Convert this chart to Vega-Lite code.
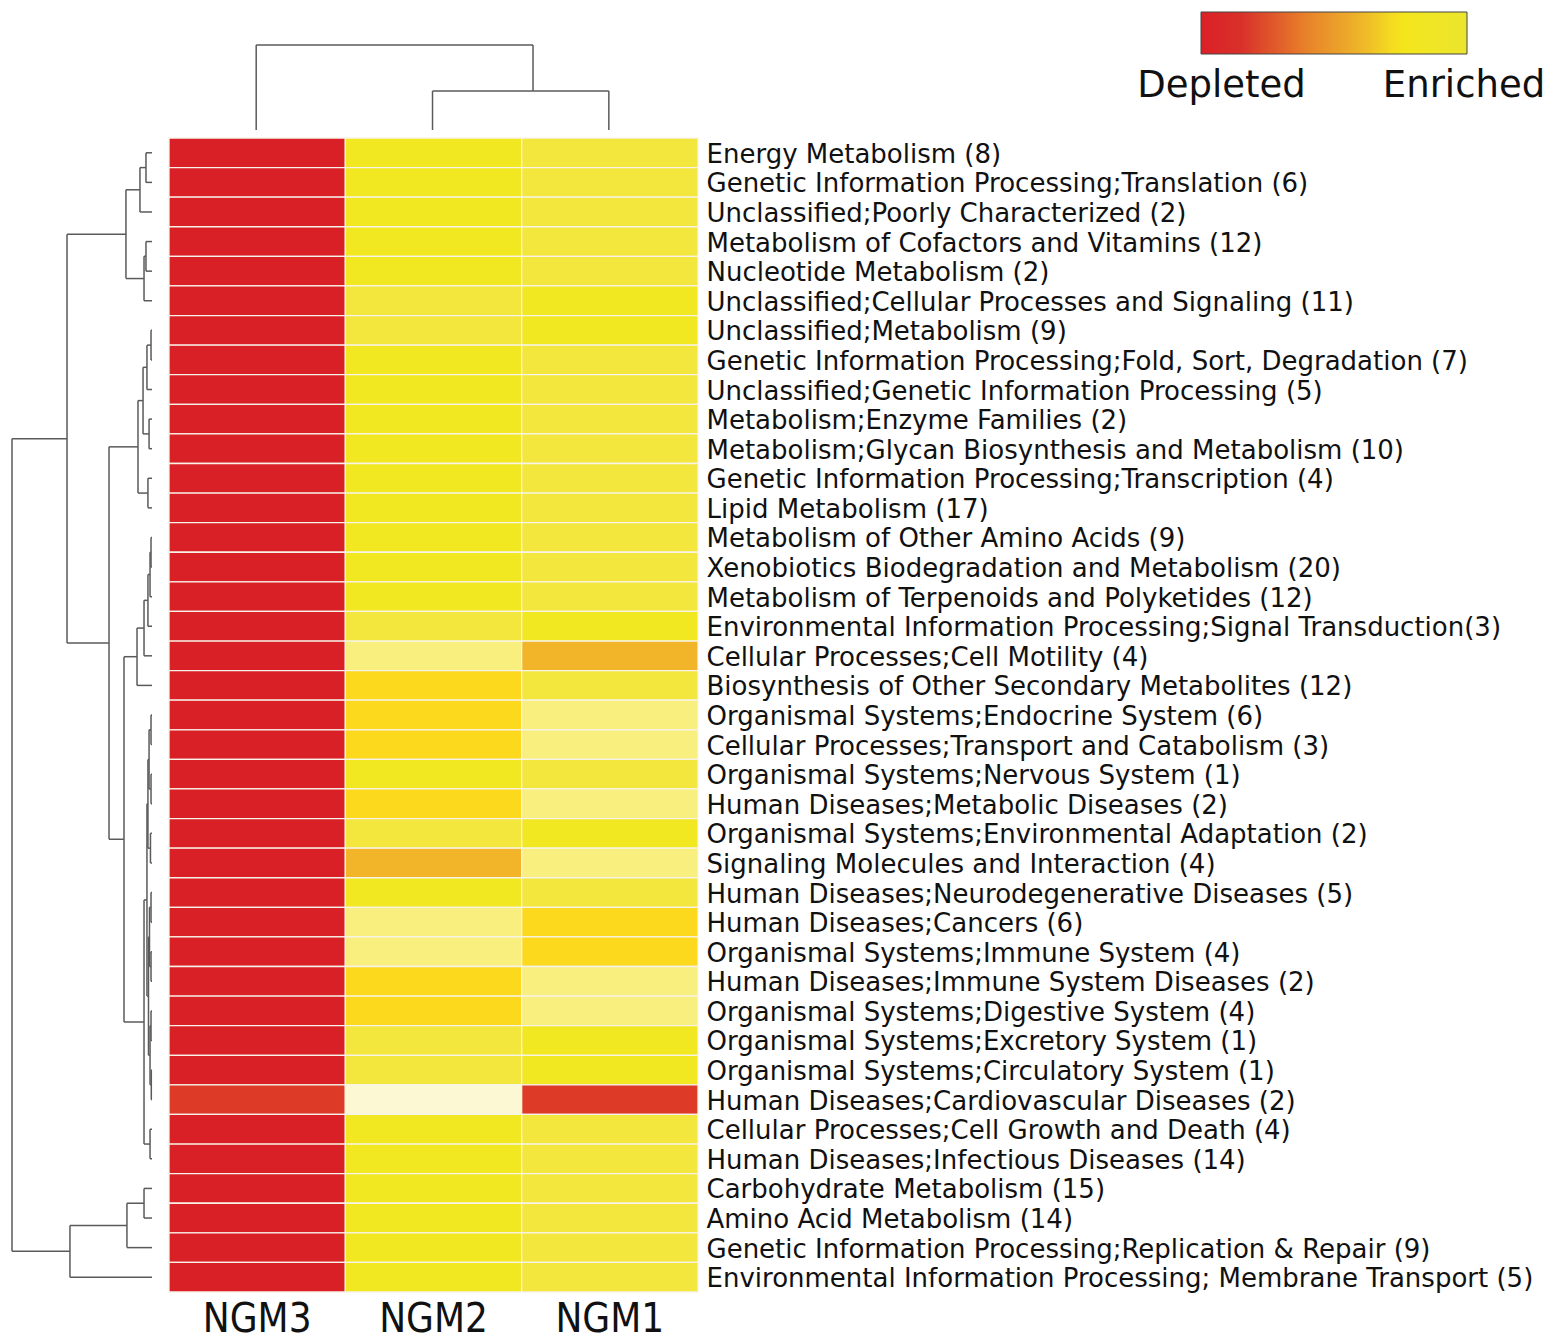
{
  "$schema": "https://vega.github.io/schema/vega-lite/v6.json",
  "padding": 0,
  "spacing": 0,
  "background": "white",
  "config": {"view": {"stroke": null}, "concat": {"spacing": 0}},
  "datasets": {
    "cells": [
      {"pathway": "Energy Metabolism (8)", "sample": "NGM3", "z": -1.15},
      {"pathway": "Energy Metabolism (8)", "sample": "NGM2", "z": 0.52},
      {"pathway": "Energy Metabolism (8)", "sample": "NGM1", "z": 0.64},
      {"pathway": "Genetic Information Processing;Translation (6)", "sample": "NGM3", "z": -1.15},
      {"pathway": "Genetic Information Processing;Translation (6)", "sample": "NGM2", "z": 0.52},
      {"pathway": "Genetic Information Processing;Translation (6)", "sample": "NGM1", "z": 0.64},
      {"pathway": "Unclassified;Poorly Characterized (2)", "sample": "NGM3", "z": -1.15},
      {"pathway": "Unclassified;Poorly Characterized (2)", "sample": "NGM2", "z": 0.52},
      {"pathway": "Unclassified;Poorly Characterized (2)", "sample": "NGM1", "z": 0.64},
      {"pathway": "Metabolism of Cofactors and Vitamins (12)", "sample": "NGM3", "z": -1.15},
      {"pathway": "Metabolism of Cofactors and Vitamins (12)", "sample": "NGM2", "z": 0.52},
      {"pathway": "Metabolism of Cofactors and Vitamins (12)", "sample": "NGM1", "z": 0.64},
      {"pathway": "Nucleotide Metabolism (2)", "sample": "NGM3", "z": -1.15},
      {"pathway": "Nucleotide Metabolism (2)", "sample": "NGM2", "z": 0.52},
      {"pathway": "Nucleotide Metabolism (2)", "sample": "NGM1", "z": 0.64},
      {"pathway": "Unclassified;Cellular Processes and Signaling (11)", "sample": "NGM3", "z": -1.15},
      {"pathway": "Unclassified;Cellular Processes and Signaling (11)", "sample": "NGM2", "z": 0.64},
      {"pathway": "Unclassified;Cellular Processes and Signaling (11)", "sample": "NGM1", "z": 0.52},
      {"pathway": "Unclassified;Metabolism (9)", "sample": "NGM3", "z": -1.15},
      {"pathway": "Unclassified;Metabolism (9)", "sample": "NGM2", "z": 0.64},
      {"pathway": "Unclassified;Metabolism (9)", "sample": "NGM1", "z": 0.52},
      {"pathway": "Genetic Information Processing;Fold, Sort, Degradation (7)", "sample": "NGM3", "z": -1.15},
      {"pathway": "Genetic Information Processing;Fold, Sort, Degradation (7)", "sample": "NGM2", "z": 0.52},
      {"pathway": "Genetic Information Processing;Fold, Sort, Degradation (7)", "sample": "NGM1", "z": 0.64},
      {"pathway": "Unclassified;Genetic Information Processing (5)", "sample": "NGM3", "z": -1.15},
      {"pathway": "Unclassified;Genetic Information Processing (5)", "sample": "NGM2", "z": 0.52},
      {"pathway": "Unclassified;Genetic Information Processing (5)", "sample": "NGM1", "z": 0.64},
      {"pathway": "Metabolism;Enzyme Families (2)", "sample": "NGM3", "z": -1.15},
      {"pathway": "Metabolism;Enzyme Families (2)", "sample": "NGM2", "z": 0.52},
      {"pathway": "Metabolism;Enzyme Families (2)", "sample": "NGM1", "z": 0.64},
      {"pathway": "Metabolism;Glycan Biosynthesis and Metabolism (10)", "sample": "NGM3", "z": -1.15},
      {"pathway": "Metabolism;Glycan Biosynthesis and Metabolism (10)", "sample": "NGM2", "z": 0.52},
      {"pathway": "Metabolism;Glycan Biosynthesis and Metabolism (10)", "sample": "NGM1", "z": 0.64},
      {"pathway": "Genetic Information Processing;Transcription (4)", "sample": "NGM3", "z": -1.15},
      {"pathway": "Genetic Information Processing;Transcription (4)", "sample": "NGM2", "z": 0.52},
      {"pathway": "Genetic Information Processing;Transcription (4)", "sample": "NGM1", "z": 0.64},
      {"pathway": "Lipid Metabolism (17)", "sample": "NGM3", "z": -1.15},
      {"pathway": "Lipid Metabolism (17)", "sample": "NGM2", "z": 0.52},
      {"pathway": "Lipid Metabolism (17)", "sample": "NGM1", "z": 0.64},
      {"pathway": "Metabolism of Other Amino Acids (9)", "sample": "NGM3", "z": -1.15},
      {"pathway": "Metabolism of Other Amino Acids (9)", "sample": "NGM2", "z": 0.52},
      {"pathway": "Metabolism of Other Amino Acids (9)", "sample": "NGM1", "z": 0.64},
      {"pathway": "Xenobiotics Biodegradation and Metabolism (20)", "sample": "NGM3", "z": -1.15},
      {"pathway": "Xenobiotics Biodegradation and Metabolism (20)", "sample": "NGM2", "z": 0.52},
      {"pathway": "Xenobiotics Biodegradation and Metabolism (20)", "sample": "NGM1", "z": 0.64},
      {"pathway": "Metabolism of Terpenoids and Polyketides (12)", "sample": "NGM3", "z": -1.15},
      {"pathway": "Metabolism of Terpenoids and Polyketides (12)", "sample": "NGM2", "z": 0.52},
      {"pathway": "Metabolism of Terpenoids and Polyketides (12)", "sample": "NGM1", "z": 0.64},
      {"pathway": "Environmental Information Processing;Signal Transduction(3)", "sample": "NGM3", "z": -1.15},
      {"pathway": "Environmental Information Processing;Signal Transduction(3)", "sample": "NGM2", "z": 0.64},
      {"pathway": "Environmental Information Processing;Signal Transduction(3)", "sample": "NGM1", "z": 0.52},
      {"pathway": "Cellular Processes;Cell Motility (4)", "sample": "NGM3", "z": -1.15},
      {"pathway": "Cellular Processes;Cell Motility (4)", "sample": "NGM2", "z": 0.82},
      {"pathway": "Cellular Processes;Cell Motility (4)", "sample": "NGM1", "z": 0.25},
      {"pathway": "Biosynthesis of Other Secondary Metabolites (12)", "sample": "NGM3", "z": -1.15},
      {"pathway": "Biosynthesis of Other Secondary Metabolites (12)", "sample": "NGM2", "z": 0.38},
      {"pathway": "Biosynthesis of Other Secondary Metabolites (12)", "sample": "NGM1", "z": 0.64},
      {"pathway": "Organismal Systems;Endocrine System (6)", "sample": "NGM3", "z": -1.15},
      {"pathway": "Organismal Systems;Endocrine System (6)", "sample": "NGM2", "z": 0.38},
      {"pathway": "Organismal Systems;Endocrine System (6)", "sample": "NGM1", "z": 0.82},
      {"pathway": "Cellular Processes;Transport and Catabolism (3)", "sample": "NGM3", "z": -1.15},
      {"pathway": "Cellular Processes;Transport and Catabolism (3)", "sample": "NGM2", "z": 0.38},
      {"pathway": "Cellular Processes;Transport and Catabolism (3)", "sample": "NGM1", "z": 0.82},
      {"pathway": "Organismal Systems;Nervous System (1)", "sample": "NGM3", "z": -1.15},
      {"pathway": "Organismal Systems;Nervous System (1)", "sample": "NGM2", "z": 0.52},
      {"pathway": "Organismal Systems;Nervous System (1)", "sample": "NGM1", "z": 0.64},
      {"pathway": "Human Diseases;Metabolic Diseases (2)", "sample": "NGM3", "z": -1.15},
      {"pathway": "Human Diseases;Metabolic Diseases (2)", "sample": "NGM2", "z": 0.38},
      {"pathway": "Human Diseases;Metabolic Diseases (2)", "sample": "NGM1", "z": 0.82},
      {"pathway": "Organismal Systems;Environmental Adaptation (2)", "sample": "NGM3", "z": -1.15},
      {"pathway": "Organismal Systems;Environmental Adaptation (2)", "sample": "NGM2", "z": 0.64},
      {"pathway": "Organismal Systems;Environmental Adaptation (2)", "sample": "NGM1", "z": 0.52},
      {"pathway": "Signaling Molecules and Interaction (4)", "sample": "NGM3", "z": -1.15},
      {"pathway": "Signaling Molecules and Interaction (4)", "sample": "NGM2", "z": 0.25},
      {"pathway": "Signaling Molecules and Interaction (4)", "sample": "NGM1", "z": 0.82},
      {"pathway": "Human Diseases;Neurodegenerative Diseases (5)", "sample": "NGM3", "z": -1.15},
      {"pathway": "Human Diseases;Neurodegenerative Diseases (5)", "sample": "NGM2", "z": 0.52},
      {"pathway": "Human Diseases;Neurodegenerative Diseases (5)", "sample": "NGM1", "z": 0.64},
      {"pathway": "Human Diseases;Cancers (6)", "sample": "NGM3", "z": -1.15},
      {"pathway": "Human Diseases;Cancers (6)", "sample": "NGM2", "z": 0.82},
      {"pathway": "Human Diseases;Cancers (6)", "sample": "NGM1", "z": 0.38},
      {"pathway": "Organismal Systems;Immune System (4)", "sample": "NGM3", "z": -1.15},
      {"pathway": "Organismal Systems;Immune System (4)", "sample": "NGM2", "z": 0.82},
      {"pathway": "Organismal Systems;Immune System (4)", "sample": "NGM1", "z": 0.38},
      {"pathway": "Human Diseases;Immune System Diseases (2)", "sample": "NGM3", "z": -1.15},
      {"pathway": "Human Diseases;Immune System Diseases (2)", "sample": "NGM2", "z": 0.38},
      {"pathway": "Human Diseases;Immune System Diseases (2)", "sample": "NGM1", "z": 0.82},
      {"pathway": "Organismal Systems;Digestive System (4)", "sample": "NGM3", "z": -1.15},
      {"pathway": "Organismal Systems;Digestive System (4)", "sample": "NGM2", "z": 0.38},
      {"pathway": "Organismal Systems;Digestive System (4)", "sample": "NGM1", "z": 0.82},
      {"pathway": "Organismal Systems;Excretory System (1)", "sample": "NGM3", "z": -1.15},
      {"pathway": "Organismal Systems;Excretory System (1)", "sample": "NGM2", "z": 0.64},
      {"pathway": "Organismal Systems;Excretory System (1)", "sample": "NGM1", "z": 0.52},
      {"pathway": "Organismal Systems;Circulatory System (1)", "sample": "NGM3", "z": -1.15},
      {"pathway": "Organismal Systems;Circulatory System (1)", "sample": "NGM2", "z": 0.64},
      {"pathway": "Organismal Systems;Circulatory System (1)", "sample": "NGM1", "z": 0.52},
      {"pathway": "Human Diseases;Cardiovascular Diseases (2)", "sample": "NGM3", "z": -0.57},
      {"pathway": "Human Diseases;Cardiovascular Diseases (2)", "sample": "NGM2", "z": 1.15},
      {"pathway": "Human Diseases;Cardiovascular Diseases (2)", "sample": "NGM1", "z": -0.58},
      {"pathway": "Cellular Processes;Cell Growth and Death (4)", "sample": "NGM3", "z": -1.15},
      {"pathway": "Cellular Processes;Cell Growth and Death (4)", "sample": "NGM2", "z": 0.52},
      {"pathway": "Cellular Processes;Cell Growth and Death (4)", "sample": "NGM1", "z": 0.64},
      {"pathway": "Human Diseases;Infectious Diseases (14)", "sample": "NGM3", "z": -1.15},
      {"pathway": "Human Diseases;Infectious Diseases (14)", "sample": "NGM2", "z": 0.52},
      {"pathway": "Human Diseases;Infectious Diseases (14)", "sample": "NGM1", "z": 0.64},
      {"pathway": "Carbohydrate Metabolism (15)", "sample": "NGM3", "z": -1.15},
      {"pathway": "Carbohydrate Metabolism (15)", "sample": "NGM2", "z": 0.52},
      {"pathway": "Carbohydrate Metabolism (15)", "sample": "NGM1", "z": 0.64},
      {"pathway": "Amino Acid Metabolism (14)", "sample": "NGM3", "z": -1.15},
      {"pathway": "Amino Acid Metabolism (14)", "sample": "NGM2", "z": 0.52},
      {"pathway": "Amino Acid Metabolism (14)", "sample": "NGM1", "z": 0.64},
      {"pathway": "Genetic Information Processing;Replication & Repair (9)", "sample": "NGM3", "z": -1.15},
      {"pathway": "Genetic Information Processing;Replication & Repair (9)", "sample": "NGM2", "z": 0.52},
      {"pathway": "Genetic Information Processing;Replication & Repair (9)", "sample": "NGM1", "z": 0.64},
      {"pathway": "Environmental Information Processing; Membrane Transport (5)", "sample": "NGM3", "z": -1.15},
      {"pathway": "Environmental Information Processing; Membrane Transport (5)", "sample": "NGM2", "z": 0.52},
      {"pathway": "Environmental Information Processing; Membrane Transport (5)", "sample": "NGM1", "z": 0.64}
    ],
    "rownodes": [
      {"node": "A", "pa": 0.5, "pb": 1.5, "ha": 0, "hb": 0, "h": 0.43},
      {"node": "B", "pa": 1.0, "pb": 2.5, "ha": 0.43, "hb": 0, "h": 0.86},
      {"node": "C1", "pa": 3.5, "pb": 4.5, "ha": 0, "hb": 0, "h": 0.43},
      {"node": "C", "pa": 4.0, "pb": 5.5, "ha": 0.43, "hb": 0, "h": 0.57},
      {"node": "D", "pa": 1.75, "pb": 4.75, "ha": 0.86, "hb": 0.57, "h": 1.86},
      {"node": "O", "pa": 6.5, "pb": 7.5, "ha": 0, "hb": 0, "h": 0.07},
      {"node": "N", "pa": 7.0, "pb": 8.5, "ha": 0.07, "hb": 0, "h": 0.36},
      {"node": "P", "pa": 9.5, "pb": 10.5, "ha": 0, "hb": 0, "h": 0.21},
      {"node": "M", "pa": 7.75, "pb": 10.0, "ha": 0.36, "hb": 0.21, "h": 0.64},
      {"node": "Q", "pa": 11.5, "pb": 12.5, "ha": 0, "hb": 0, "h": 0.29},
      {"node": "L", "pa": 8.875, "pb": 12.0, "ha": 0.64, "hb": 0.29, "h": 1.0},
      {"node": "R", "pa": 13.5, "pb": 14.5, "ha": 0, "hb": 0, "h": 0.07},
      {"node": "S", "pa": 14.0, "pb": 15.5, "ha": 0.07, "hb": 0, "h": 0.14},
      {"node": "W", "pa": 14.75, "pb": 16.5, "ha": 0.14, "hb": 0, "h": 0.29},
      {"node": "V", "pa": 15.625, "pb": 17.5, "ha": 0.29, "hb": 0, "h": 0.57},
      {"node": "T", "pa": 16.5625, "pb": 18.5, "ha": 0.57, "hb": 0, "h": 1.07},
      {"node": "a", "pa": 19.5, "pb": 20.5, "ha": 0, "hb": 0, "h": 0.07},
      {"node": "b", "pa": 21.5, "pb": 22.5, "ha": 0, "hb": 0, "h": 0.07},
      {"node": "c", "pa": 20.0, "pb": 22.0, "ha": 0.07, "hb": 0.07, "h": 0.21},
      {"node": "d", "pa": 23.5, "pb": 24.5, "ha": 0, "hb": 0, "h": 0.11},
      {"node": "e", "pa": 21.0, "pb": 24.0, "ha": 0.21, "hb": 0.11, "h": 0.29},
      {"node": "f", "pa": 25.5, "pb": 26.5, "ha": 0, "hb": 0, "h": 0.07},
      {"node": "g", "pa": 27.5, "pb": 28.5, "ha": 0, "hb": 0, "h": 0.07},
      {"node": "h", "pa": 26.0, "pb": 28.0, "ha": 0.07, "hb": 0.07, "h": 0.18},
      {"node": "i", "pa": 29.5, "pb": 30.5, "ha": 0, "hb": 0, "h": 0.07},
      {"node": "j", "pa": 31.5, "pb": 32.5, "ha": 0, "hb": 0, "h": 0.05},
      {"node": "k", "pa": 30.0, "pb": 32.0, "ha": 0.07, "hb": 0.05, "h": 0.14},
      {"node": "l", "pa": 27.0, "pb": 31.0, "ha": 0.18, "hb": 0.14, "h": 0.25},
      {"node": "X", "pa": 22.5, "pb": 29.0, "ha": 0.29, "hb": 0.25, "h": 0.36},
      {"node": "m", "pa": 33.5, "pb": 34.5, "ha": 0, "hb": 0, "h": 0.14},
      {"node": "K", "pa": 25.75, "pb": 34.0, "ha": 0.36, "hb": 0.14, "h": 0.57},
      {"node": "J", "pa": 17.53, "pb": 29.875, "ha": 1.07, "hb": 0.57, "h": 2.0},
      {"node": "I", "pa": 10.4375, "pb": 23.70, "ha": 1.0, "hb": 2.0, "h": 3.07},
      {"node": "E", "pa": 3.25, "pb": 17.07, "ha": 1.86, "hb": 3.07, "h": 6.07},
      {"node": "H", "pa": 35.5, "pb": 36.5, "ha": 0, "hb": 0, "h": 0.57},
      {"node": "G", "pa": 36.0, "pb": 37.5, "ha": 0.57, "hb": 0, "h": 1.79},
      {"node": "F", "pa": 36.75, "pb": 38.5, "ha": 1.79, "hb": 0, "h": 5.86},
      {"node": "Root", "pa": 10.16, "pb": 37.625, "ha": 6.07, "hb": 5.86, "h": 10}
    ],
    "colnodes": [
      {"node": "NGM2+NGM1", "pa": 1.5, "pb": 2.5, "ha": 0, "hb": 0, "h": 4.59},
      {"node": "Root", "pa": 0.5, "pb": 2.07, "ha": 0, "hb": 4.59, "h": 10}
    ]
  },
  "resolve": {"scale": {"color": "independent"}, "legend": {"color": "independent"}},
  "vconcat": [
    {
      "spacing": 0,
      "resolve": {"scale": {"color": "independent"}, "legend": {"color": "independent"}},
      "hconcat": [
        {
          "width": 697,
          "height": 137,
          "data": {"name": "colnodes"},
          "layer": [
            {
              "mark": {"type": "rule", "color": "#5a5a5a", "strokeWidth": 1.5},
              "encoding": {
                "x": {"field": "pa", "type": "quantitative", "scale": {"domain": [-0.953, 3], "nice": false, "zero": false}, "axis": null},
                "y": {"field": "ha", "type": "quantitative", "scale": {"domain": [-0.824, 15.294], "nice": false, "zero": false}, "axis": null},
                "y2": {"field": "h"}
              }
            },
            {
              "mark": {"type": "rule", "color": "#5a5a5a", "strokeWidth": 1.5},
              "encoding": {
                "x": {"field": "pb", "type": "quantitative", "scale": {"domain": [-0.953, 3], "nice": false, "zero": false}, "axis": null},
                "y": {"field": "hb", "type": "quantitative", "scale": {"domain": [-0.824, 15.294], "nice": false, "zero": false}, "axis": null},
                "y2": {"field": "h"}
              }
            },
            {
              "mark": {"type": "rule", "color": "#5a5a5a", "strokeWidth": 1.5},
              "encoding": {
                "x": {"field": "pa", "type": "quantitative", "scale": {"domain": [-0.953, 3], "nice": false, "zero": false}, "axis": null},
                "x2": {"field": "pb"},
                "y": {"field": "h", "type": "quantitative", "scale": {"domain": [-0.824, 15.294], "nice": false, "zero": false}, "axis": null}
              }
            }
          ]
        },
        {
          "width": 861,
          "height": 137,
          "data": {"name": "cells"},
          "mark": {"type": "point", "opacity": 0},
          "encoding": {
            "color": {
              "field": "z",
              "type": "quantitative",
              "scale": {
                "domain": [-1.2, -0.9075, -0.42, -0.03, 0.2625, 0.75],
                "range": ["#dc2027", "#d9302a", "#e8832a", "#eeb52a", "#f5e61c", "#ebe52e"],
                "interpolate": "rgb"
              },
              "legend": {
                "type": "gradient",
                "orient": "top-right",
                "offset": 12,
                "padding": 0,
                "title": null,
                "direction": "horizontal",
                "gradientLength": 266,
                "gradientThickness": 42,
                "gradientStrokeColor": "#444444",
                "gradientStrokeWidth": 1,
                "values": [-1.05, 0.728],
                "labelExpr": "datum.value < 0 ? 'Depleted' : 'Enriched'",
                "labelFont": "DejaVu Sans",
                "labelFontSize": 37,
                "labelColor": "#111111",
                "labelAlign": "center",
                "labelOffset": 14,
                "labelOverlap": false,
                "labelLimit": 400
              }
            }
          }
        }
      ]
    },
    {
      "spacing": 0,
      "resolve": {"scale": {"color": "independent"}, "legend": {"color": "independent"}},
      "hconcat": [
        {
          "width": 168,
          "height": 1154,
          "data": {"name": "rownodes"},
          "layer": [
            {
              "mark": {"type": "rule", "color": "#5a5a5a", "strokeWidth": 1.5},
              "encoding": {
                "x": {"field": "ha", "type": "quantitative", "scale": {"domain": [-1.143, 10.857], "reverse": true, "nice": false, "zero": false}, "axis": null},
                "x2": {"field": "h"},
                "y": {"field": "pa", "type": "quantitative", "scale": {"domain": [0, 39], "reverse": true, "nice": false, "zero": false}, "axis": null}
              }
            },
            {
              "mark": {"type": "rule", "color": "#5a5a5a", "strokeWidth": 1.5},
              "encoding": {
                "x": {"field": "hb", "type": "quantitative", "scale": {"domain": [-1.143, 10.857], "reverse": true, "nice": false, "zero": false}, "axis": null},
                "x2": {"field": "h"},
                "y": {"field": "pb", "type": "quantitative", "scale": {"domain": [0, 39], "reverse": true, "nice": false, "zero": false}, "axis": null}
              }
            },
            {
              "mark": {"type": "rule", "color": "#5a5a5a", "strokeWidth": 1.5},
              "encoding": {
                "x": {"field": "h", "type": "quantitative", "scale": {"domain": [-1.143, 10.857], "reverse": true, "nice": false, "zero": false}, "axis": null},
                "y": {"field": "pa", "type": "quantitative", "scale": {"domain": [0, 39], "reverse": true, "nice": false, "zero": false}, "axis": null},
                "y2": {"field": "pb"}
              }
            }
          ]
        },
        {
          "width": 529,
          "height": 1154,
          "data": {"name": "cells"},
          "mark": {"type": "rect", "stroke": "#f7f3ea", "strokeWidth": 1.3},
          "encoding": {
            "x": {
              "field": "sample",
              "type": "nominal",
              "sort": ["NGM3", "NGM2", "NGM1"],
              "scale": {"paddingInner": 0, "paddingOuter": 0},
              "axis": {"orient": "bottom", "title": null, "labelFont": "'DejaVu Sans Condensed', 'Liberation Sans', Arial, sans-serif", "labelFontSize": 40, "labelColor": "#111111", "labelAngle": 0, "ticks": false, "tickSize": 0, "domain": false, "labelPadding": 7}
            },
            "y": {
              "field": "pathway",
              "type": "nominal",
              "sort": null,
              "scale": {"paddingInner": 0, "paddingOuter": 0},
              "axis": {"orient": "right", "title": null, "labelFont": "DejaVu Sans", "labelFontSize": 26, "labelColor": "#111111", "labelLimit": 1200, "ticks": false, "tickSize": 0, "domain": false, "labelPadding": 8, "labelOffset": 2}
            },
            "color": {
              "field": "z",
              "type": "quantitative",
              "scale": {
                "domain": [-1.2, -0.9, -0.55, 0.25, 0.38, 0.52, 0.64, 0.82, 1.15],
                "range": ["#da2027", "#da2128", "#dd3d28", "#f2b428", "#fdd91d", "#f2e822", "#f3e63c", "#f8ef7e", "#fdf8d4"],
                "interpolate": "rgb"
              },
              "legend": null
            }
          }
        }
      ]
    }
  ]
}
